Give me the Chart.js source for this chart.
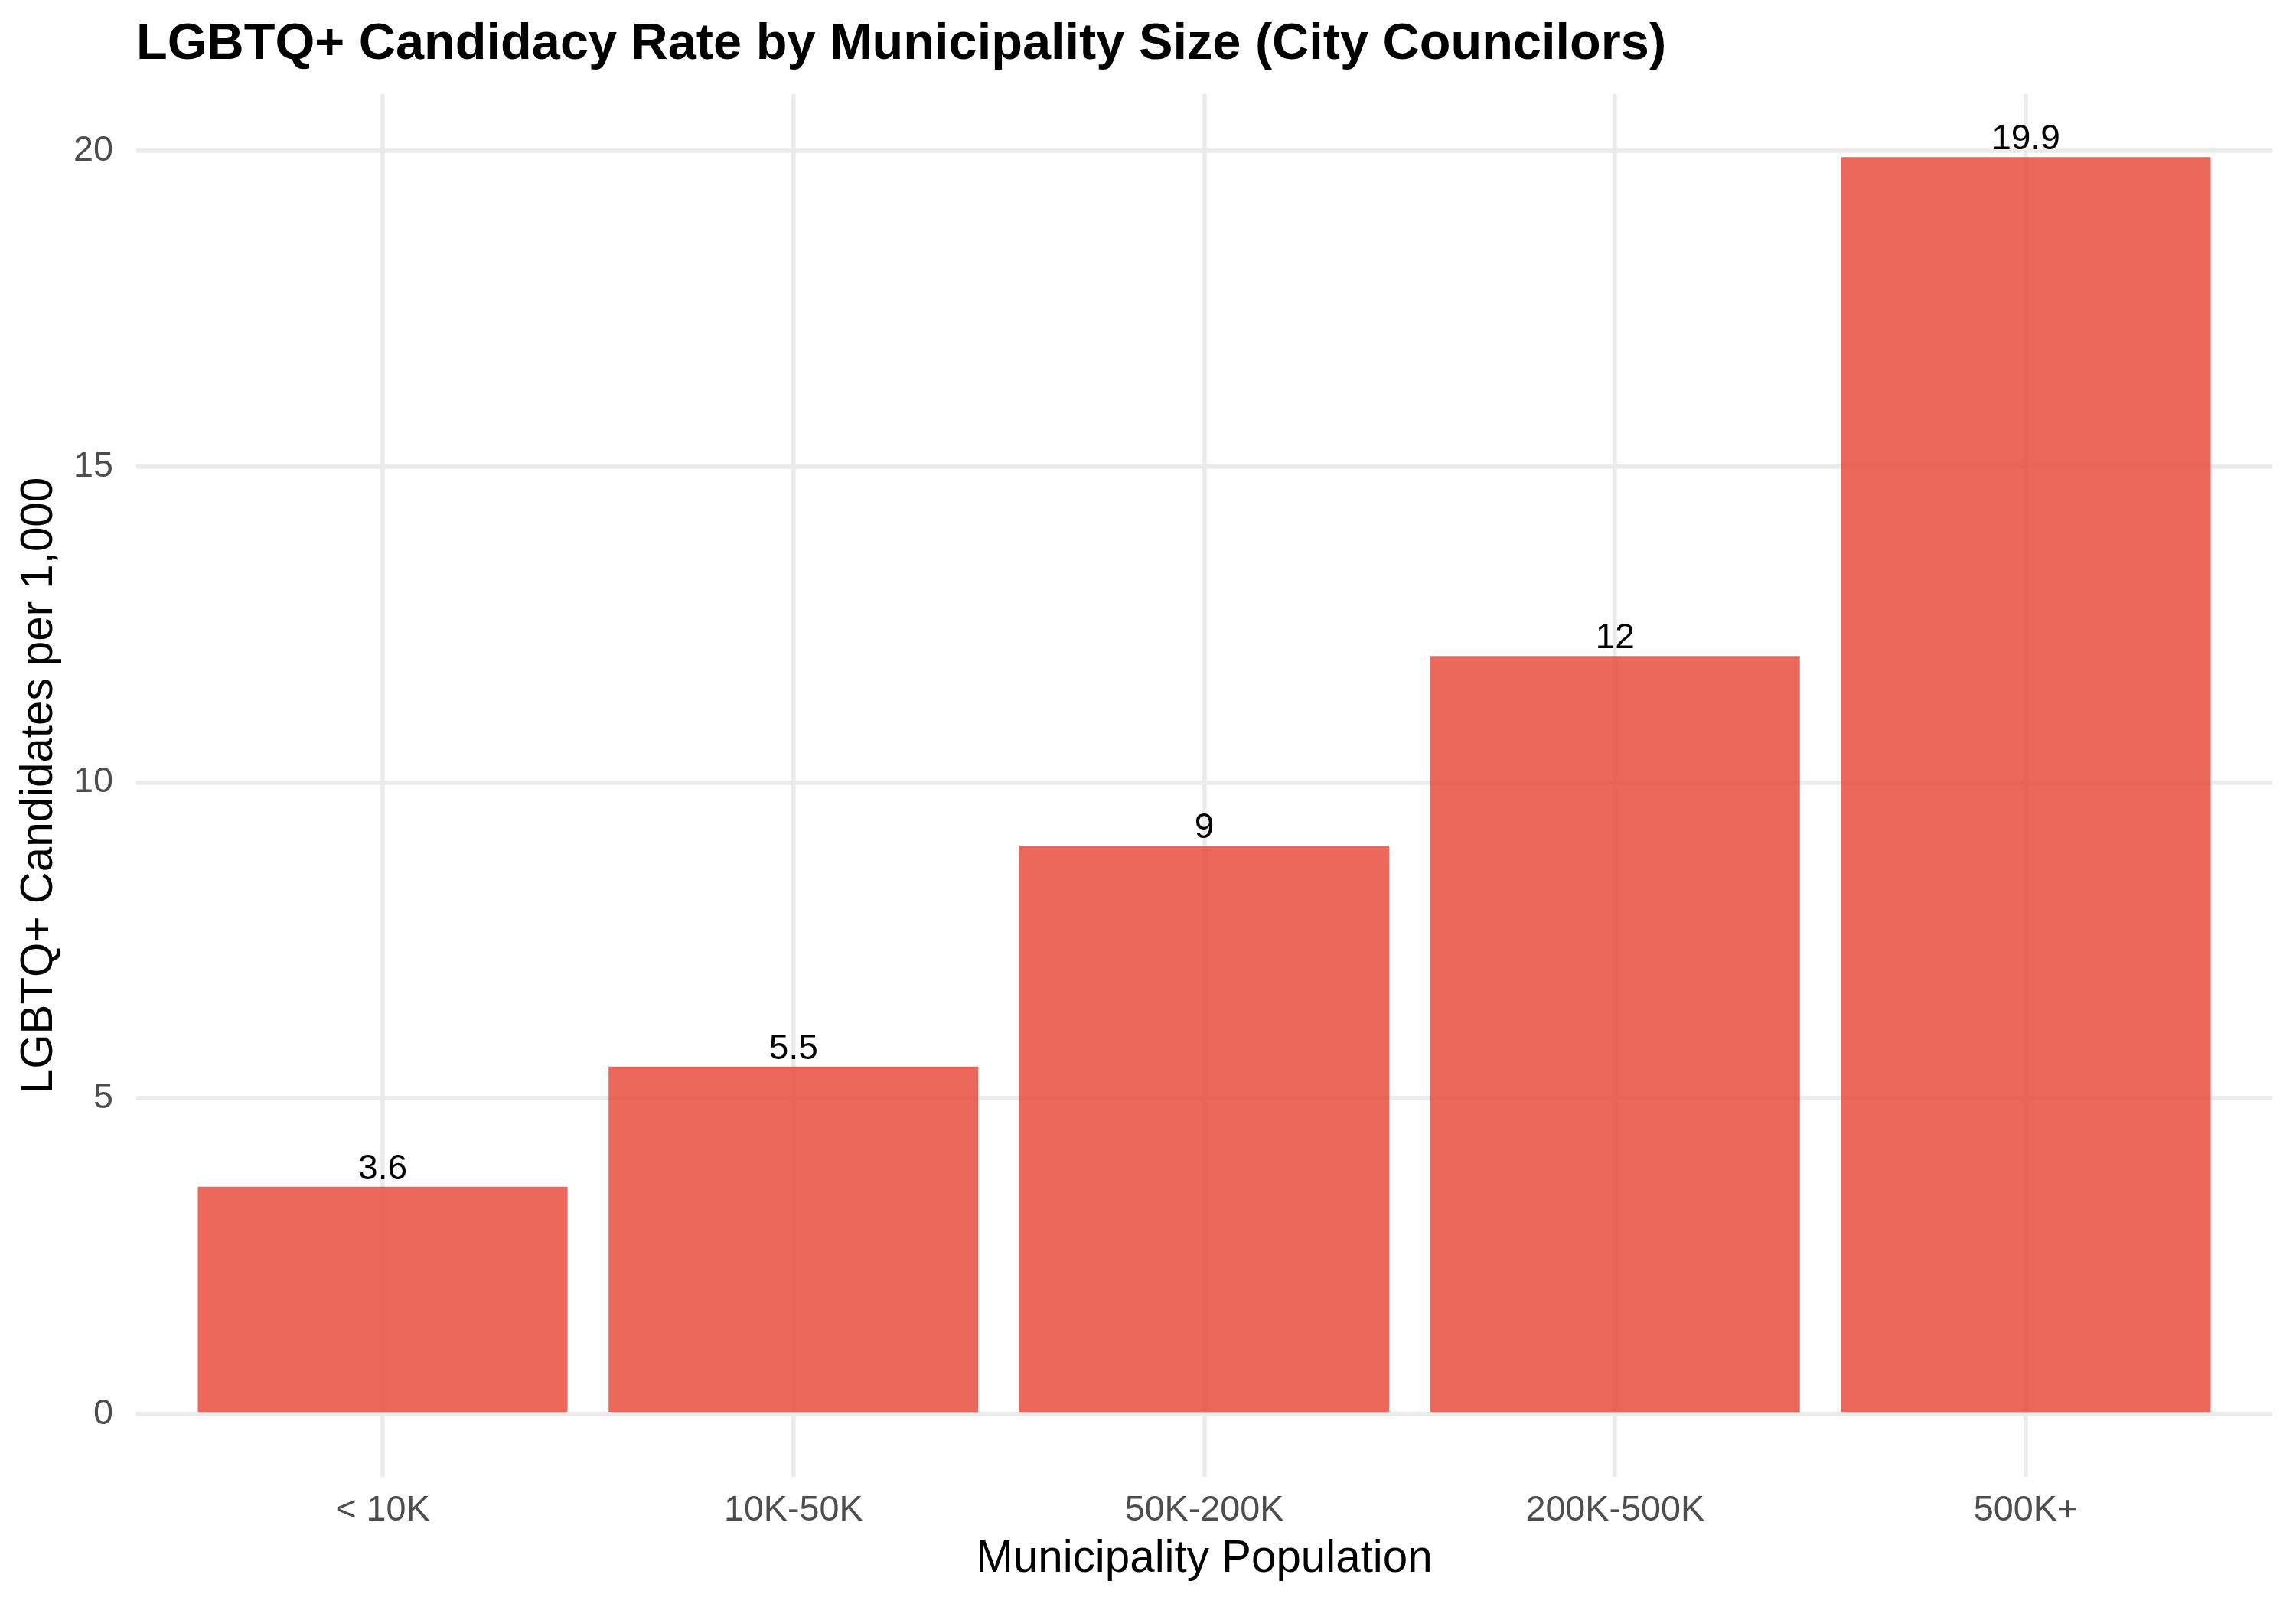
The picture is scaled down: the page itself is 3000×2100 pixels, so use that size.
<!DOCTYPE html>
<html>
<head>
<meta charset="utf-8">
<title>LGBTQ+ Candidacy Rate by Municipality Size</title>
<script src="https://cdn.jsdelivr.net/npm/chart.js@4"></script>
<style>
  html, body { margin: 0; padding: 0; background: #ffffff; }
  canvas { display: block; }
</style>
</head>
<body>
<canvas id="rateChart" width="3000" height="2100" style="width:3000px;height:2100px"></canvas>
<script>
// data
const categories = ["< 10K", "10K-50K", "50K-200K", "200K-500K", "500K+"];
const rates = [3.6, 5.5, 9, 12, 19.9];
const yTicks = [0, 5, 10, 15, 20];

const chartTitle = "LGBTQ+ Candidacy Rate by Municipality Size (City Councilors)";
const fontFamily = "'Liberation Sans', Arial, Helvetica, sans-serif";

// bar value labels just above each bar
const barLabels = {
    id: "barLabels",
    afterDatasetsDraw(chart) {
        const ctx = chart.ctx;
        const meta = chart.getDatasetMeta(0);
        ctx.save();
        ctx.font = "46px " + fontFamily;
        ctx.fillStyle = "#000000";
        ctx.textAlign = "center";
        ctx.textBaseline = "alphabetic";
        meta.data.forEach(function(bar, i) {
            ctx.fillText(String(rates[i]), bar.x, bar.y - 10);
        });
        ctx.restore();
    }
};

// title left-aligned with the panel, like ggplot
const panelTitle = {
    id: "panelTitle",
    afterDraw(chart) {
        const ctx = chart.ctx;
        ctx.save();
        ctx.font = "bold 66.7px " + fontFamily;
        ctx.fillStyle = "#000000";
        ctx.textAlign = "left";
        ctx.textBaseline = "alphabetic";
        ctx.fillText(chartTitle, chart.chartArea.left, 77);
        ctx.restore();
    }
};

const ctx = document.getElementById("rateChart").getContext("2d");

new Chart(ctx, {
    type: "bar",
    data: {
        datasets: [{
            data: rates.map((v, i) => ({ x: i + 1, y: v })),
            backgroundColor: "rgba(231, 76, 60, 0.85)",
            borderWidth: 0,
            barPercentage: 0.9,
            categoryPercentage: 1.0
        }]
    },
    options: {
        responsive: false,
        devicePixelRatio: 1,
        animation: false,
        layout: { padding: { top: 123, right: 31, bottom: 0, left: 0 } },
        plugins: {
            legend: { display: false },
            title: { display: false },
            tooltip: { enabled: false }
        },
        scales: {
            x: {
                type: "linear",
                min: 0.4,
                max: 5.6,
                offset: false,
                afterBuildTicks: function(scale) {
                    scale.ticks = categories.map((c, i) => ({ value: i + 1 }));
                },
                afterFit: function(scale) { scale.height = 170; },
                grid: { color: "#EBEBEB", lineWidth: 5.7, drawTicks: false, offset: false },
                border: { display: false },
                ticks: {
                    padding: 16,
                    color: "#4D4D4D",
                    font: { family: fontFamily, size: 46.7 },
                    maxRotation: 0,
                    autoSkip: false,
                    callback: function(value) { return categories[value - 1]; }
                },
                title: {
                    display: true,
                    text: "Municipality Population",
                    color: "#000000",
                    font: { family: fontFamily, size: 58.3 },
                    padding: { top: 0, bottom: 27 }
                }
            },
            y: {
                min: -0.995,
                max: 20.895,
                afterBuildTicks: function(scale) {
                    scale.ticks = yTicks.map(v => ({ value: v }));
                },
                afterFit: function(scale) { scale.width = 178; },
                grid: { color: "#EBEBEB", lineWidth: 5.7, drawTicks: false },
                border: { display: false },
                ticks: {
                    padding: 30,
                    color: "#4D4D4D",
                    font: { family: fontFamily, size: 46.7 }
                },
                title: {
                    display: true,
                    text: "LGBTQ+ Candidates per 1,000",
                    color: "#000000",
                    font: { family: fontFamily, size: 58.3 },
                    padding: { top: 17, bottom: 0 }
                }
            }
        }
    },
    plugins: [barLabels, panelTitle]
});
</script>
</body>
</html>
